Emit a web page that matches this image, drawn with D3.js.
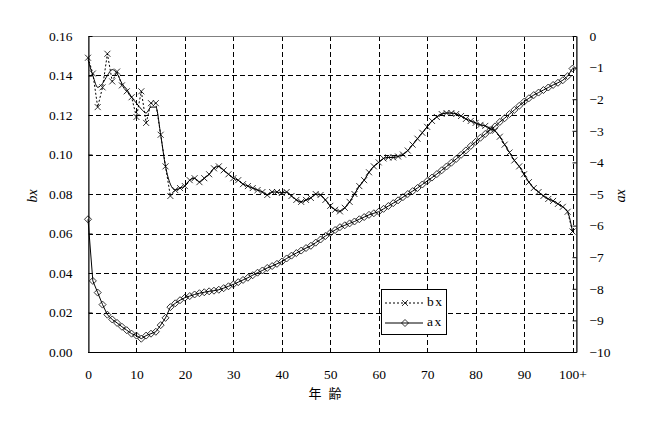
<!DOCTYPE html>
<html>
<head>
<meta charset="utf-8">
<script src="https://cdn.jsdelivr.net/npm/d3@7"></script>
<style>
body{margin:0;background:#fff}
</style>
</head>
<body>
<script>
// age 0..100 ("100+")
const ages = d3.range(0, 101);

const bxRaw = [
  0.149, 0.141, 0.124, 0.134, 0.151, 0.137, 0.142, 0.135, 0.132, 0.129,
  0.119, 0.132, 0.116, 0.126, 0.126, 0.110, 0.094, 0.079, 0.082, 0.083,
  0.084, 0.087, 0.088, 0.086, 0.088, 0.090, 0.093, 0.094, 0.092, 0.090,
  0.088, 0.087, 0.085, 0.084, 0.083, 0.082, 0.081, 0.0795, 0.081, 0.081,
  0.0805, 0.081, 0.079, 0.077, 0.076, 0.077, 0.078, 0.080, 0.0795, 0.077,
  0.074, 0.072, 0.0712, 0.073, 0.076, 0.080, 0.084, 0.087, 0.091, 0.094,
  0.096, 0.098, 0.0985, 0.0985, 0.099, 0.100, 0.102, 0.105, 0.108, 0.111,
  0.114, 0.117, 0.119, 0.1205, 0.121, 0.121, 0.1205, 0.1195, 0.118, 0.117,
  0.116, 0.115, 0.1145, 0.113, 0.112, 0.109, 0.105, 0.101, 0.097, 0.094,
  0.090, 0.086, 0.083, 0.081, 0.079, 0.0775, 0.0765, 0.075, 0.0735, 0.071,
  0.061
];

// smoothed bx for young ages (solid line, no markers); later it follows bxRaw
const bxSmooth = [
  0.148, 0.140, 0.134, 0.136, 0.140, 0.143, 0.141, 0.136, 0.133, 0.129,
  0.126, 0.123, 0.121, 0.124, 0.124, 0.110, 0.094, 0.085, 0.082, 0.083,
  0.084
];

const ax = [
  -5.80, -7.75, -8.12, -8.50, -8.82, -8.97, -9.08, -9.20, -9.31, -9.42,
  -9.48, -9.58, -9.48, -9.42, -9.36, -9.15, -8.92, -8.58, -8.46, -8.36,
  -8.28, -8.23, -8.18, -8.14, -8.11, -8.08, -8.06, -8.03, -7.98, -7.92,
  -7.86, -7.79, -7.72, -7.65, -7.57, -7.49, -7.42, -7.34, -7.28, -7.21,
  -7.14, -7.04, -6.95, -6.87, -6.79, -6.71, -6.64, -6.54, -6.44, -6.33,
  -6.23, -6.14, -6.05, -5.99, -5.93, -5.87, -5.80, -5.73, -5.66, -5.61,
  -5.56, -5.47, -5.38, -5.29, -5.20, -5.10, -5.00, -4.91, -4.81, -4.70,
  -4.59, -4.48, -4.37, -4.25, -4.13, -4.01, -3.89, -3.76, -3.62, -3.48,
  -3.35, -3.22, -3.10, -2.98, -2.86, -2.72, -2.60, -2.47, -2.34, -2.21,
  -2.08, -1.97, -1.87, -1.79, -1.71, -1.63, -1.55, -1.48, -1.40, -1.27,
  -1.03
];

const xTicks = [0, 10, 20, 30, 40, 50, 60, 70, 80, 90, 100];
const xTickLabels = ["0", "10", "20", "30", "40", "50", "60", "70", "80", "90", "100+"];
const leftTicks = [0, 0.02, 0.04, 0.06, 0.08, 0.10, 0.12, 0.14, 0.16];
const rightTicks = [0, -1, -2, -3, -4, -5, -6, -7, -8, -9, -10];

const W = 652, H = 430;
const L = 88, R = 576, T = 36, B = 352;
const font = "'Liberation Serif', 'Noto Sans CJK JP', serif";

const svg = d3.select("body").append("svg")
    .attr("width", W).attr("height", H)
    .style("font-family", font);

svg.append("rect").attr("width", W).attr("height", H).attr("fill", "#fff");

const x = d3.scaleLinear().domain([0, 100]).range([L, 572.5]);
const yL = d3.scaleLinear().domain([0, 0.16]).range([B, T]);
const yR = d3.scaleLinear().domain([-10, 0]).range([B, T]);

// grid
const grid = svg.append("g")
    .attr("stroke", "#000").attr("stroke-width", 1).attr("stroke-dasharray", "5,3");
grid.selectAll(".h").data(leftTicks.slice(1, -1)).enter().append("line")
    .attr("x1", L).attr("x2", R)
    .attr("y1", d => Math.round(yL(d)) + 0.5).attr("y2", d => Math.round(yL(d)) + 0.5);
grid.selectAll(".v").data(xTicks.slice(1)).enter().append("line")
    .attr("y1", T).attr("y2", B)
    .attr("x1", d => Math.round(x(d)) + 0.5).attr("x2", d => Math.round(x(d)) + 0.5);

svg.append("rect")
    .attr("x", L + 0.5).attr("y", T + 0.5).attr("width", R - L).attr("height", B - T)
    .attr("fill", "none").attr("stroke", "#808080");

const crossPath = "M-3,-3L3,3M-3,3L3,-3";
const diamondPath = "M0,-3.5L3.5,0L0,3.5L-3.5,0Z";

// ax series
const axLine = d3.line().x((d, i) => x(ages[i])).y(d => yR(d));
svg.append("path").datum(ax)
    .attr("d", axLine).attr("fill", "none").attr("stroke", "#000").attr("stroke-width", 1);
svg.append("g").selectAll("path").data(ax).enter().append("path")
    .attr("d", diamondPath)
    .attr("transform", (d, i) => `translate(${x(ages[i])},${yR(d)})`)
    .attr("fill", "none").attr("stroke", "#000").attr("stroke-width", 0.8);

// bx raw series, dotted with crosses
const bxLine = d3.line().x((d, i) => x(ages[i])).y(d => yL(d));
svg.append("path").datum(bxRaw)
    .attr("d", bxLine).attr("fill", "none").attr("stroke", "#000")
    .attr("stroke-width", 1).attr("stroke-dasharray", "2,2");
svg.append("g").selectAll("path").data(bxRaw).enter().append("path")
    .attr("d", crossPath)
    .attr("transform", (d, i) => `translate(${x(ages[i])},${yL(d)})`)
    .attr("fill", "none").attr("stroke", "#000").attr("stroke-width", 0.8);

// bx smoothed, solid
const bxSolid = bxSmooth.concat(bxRaw.slice(bxSmooth.length));
svg.append("path").datum(bxSolid)
    .attr("d", d3.line().curve(d3.curveMonotoneX).x((d, i) => x(ages[i])).y(d => yL(d)))
    .attr("fill", "none").attr("stroke", "#000").attr("stroke-width", 1);

// axes
const leftAxis = d3.axisLeft(yL).tickValues(leftTicks).tickFormat(d3.format(".2f"))
    .tickSizeInner(-4).tickSizeOuter(0).tickPadding(16);
const gl = svg.append("g").attr("transform", `translate(${L + 0.5},0)`).call(leftAxis);

const rightAxis = d3.axisRight(yR).tickValues(rightTicks).tickFormat(d3.format("d"))
    .tickSizeInner(-4).tickSizeOuter(0).tickPadding(13);
const gr = svg.append("g").attr("transform", `translate(${R + 0.5},0)`).call(rightAxis);

const bottomAxis = d3.axisBottom(x).tickValues(xTicks).tickFormat((d, i) => xTickLabels[i])
    .tickSize(0).tickPadding(17);
const gb = svg.append("g").attr("transform", `translate(0,${B + 0.5})`).call(bottomAxis);
gb.select(".domain").attr("d", `M${L},0H${R + 1}`);

[gl, gr, gb].forEach(g => {
    g.attr("font-family", font).attr("font-size", 13.5);
    g.selectAll("text").attr("fill", "#000");
    g.selectAll("line, path").attr("stroke", "#000");
});

// axis titles
svg.append("text").attr("transform", "translate(34,196) rotate(-90)")
    .attr("text-anchor", "middle").attr("dominant-baseline", "middle")
    .attr("font-style", "italic").attr("font-size", 14).text("bx");
svg.append("text").attr("transform", "translate(622,196) rotate(-90)")
    .attr("text-anchor", "middle").attr("dominant-baseline", "middle")
    .attr("font-style", "italic").attr("font-size", 14).text("ax");
svg.append("text").attr("x", 326).attr("y", 398)
    .attr("text-anchor", "middle").attr("font-size", 13).attr("letter-spacing", 2)
    .style("font-family", "'Noto Sans CJK JP', sans-serif")
    .text("年 齢");

// legend
const lg = svg.append("g").attr("transform", "translate(381,289)");
lg.append("rect").attr("x", 0.5).attr("y", 0.5).attr("width", 65).attr("height", 45)
    .attr("fill", "#fff").attr("stroke", "#000");
const items = [
    {label: "bx", dash: "2,2", marker: crossPath, y: 14},
    {label: "ax", dash: null, marker: diamondPath, y: 34}
];
items.forEach(it => {
    lg.append("line").attr("x1", 4).attr("x2", 42).attr("y1", it.y).attr("y2", it.y)
        .attr("stroke", "#000").attr("stroke-dasharray", it.dash);
    lg.append("path").attr("d", it.marker).attr("transform", `translate(24,${it.y})`)
        .attr("fill", "none").attr("stroke", "#000").attr("stroke-width", 0.8);
    lg.append("text").attr("x", 46).attr("y", it.y).attr("dominant-baseline", "middle")
        .attr("font-size", 13.5).attr("letter-spacing", 1.5).text(it.label);
});
</script>
</body>
</html>
